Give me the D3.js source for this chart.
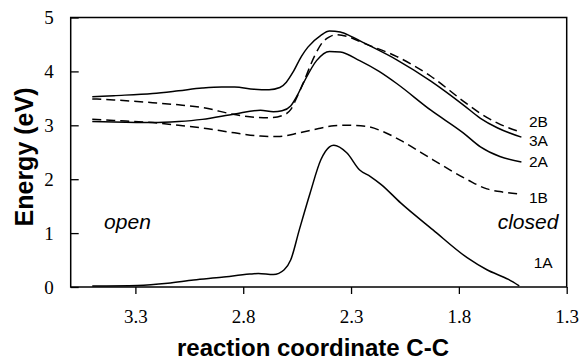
<!DOCTYPE html>
<html>
<head>
  <meta charset="utf-8">
  <script src="https://d3js.org/d3.v7.min.js"></script>
  <style>
    body { margin: 0; background: #fff; }
    .tick text { font-family: "Liberation Serif", "Times New Roman", serif; fill: #000; }
  </style>
</head>
<body>
<script type="text/javascript">

// ---- data: [C-C distance, energy eV] ----
var xTicks = [3.3, 2.8, 2.3, 1.8, 1.3];
var yTicks = [0, 1, 2, 3, 4, 5];

var curve3A = [[3.50,3.53],[3.40,3.55],[3.22,3.59],[3.10,3.64],[2.99,3.69],[2.90,3.71],[2.84,3.71],
  [2.75,3.67],[2.68,3.66],[2.63,3.70],[2.60,3.80],[2.57,3.98],[2.53,4.28],[2.50,4.45],[2.44,4.67],
  [2.40,4.75],[2.35,4.73],[2.30,4.65],[2.24,4.53],[2.09,4.22],[1.93,3.82],[1.78,3.38],[1.70,3.13],
  [1.62,2.95],[1.51,2.78]];

var curve2B = [[3.50,3.49],[3.40,3.47],[3.22,3.42],[3.10,3.38],[2.99,3.33],[2.84,3.20],[2.75,3.15],
  [2.68,3.14],[2.62,3.18],[2.58,3.29],[2.55,3.53],[2.52,3.80],[2.47,4.28],[2.43,4.55],[2.40,4.64],
  [2.37,4.68],[2.32,4.65],[2.24,4.52],[2.09,4.28],[1.93,3.91],[1.78,3.45],[1.70,3.22],[1.62,3.04],
  [1.51,2.87]];

var curve2A = [[3.50,3.07],[3.40,3.06],[3.22,3.05],[3.10,3.07],[2.99,3.11],[2.84,3.21],[2.72,3.28],
  [2.66,3.25],[2.62,3.27],[2.58,3.36],[2.55,3.55],[2.52,3.79],[2.46,4.20],[2.40,4.37],[2.35,4.36],
  [2.26,4.20],[2.17,4.00],[2.09,3.78],[1.93,3.28],[1.78,2.86],[1.70,2.60],[1.61,2.42],[1.51,2.32]];

var curve1B = [[3.50,3.11],[3.40,3.09],[3.22,3.05],[3.10,3.00],[2.99,2.95],[2.84,2.86],[2.72,2.80],
  [2.64,2.79],[2.54,2.86],[2.45,2.94],[2.38,2.99],[2.32,3.00],[2.23,2.98],[2.15,2.88],[2.07,2.72],
  [1.92,2.36],[1.76,1.99],[1.67,1.82],[1.61,1.77],[1.51,1.72]];

var curve1A = [[3.50,0.02],[3.29,0.03],[3.15,0.07],[3.03,0.13],[2.90,0.18],[2.77,0.24],[2.73,0.25],
  [2.66,0.23],[2.61,0.32],[2.58,0.50],[2.54,1.06],[2.49,1.74],[2.44,2.36],[2.40,2.60],[2.38,2.63],
  [2.32,2.49],[2.26,2.17],[2.21,2.05],[2.16,1.90],[2.07,1.56],[1.92,1.06],[1.76,0.54],[1.67,0.32],
  [1.57,0.14],[1.52,0.02]];

var seriesNames = ["2B", "3A", "2A", "1B", "1A"];
var seriesDashed = [true, false, false, true, false];
var seriesData = [curve2B, curve3A, curve2A, curve1B, curve1A];

/*************************************************************************************************/

var W = 581, H = 362;
var margin = {top: 17.5, right: 14.3, bottom: 75, left: 70.7};
var width = W - margin.left - margin.right,
    height = H - margin.top - margin.bottom;

var svg = d3.select("body").append("svg")
  .attr("width", W).attr("height", H);

var g = svg.append("g")
  .attr("transform", "translate(" + margin.left + "," + margin.top + ")");

var x = d3.scaleLinear().domain([3.6, 1.3]).range([0, width]);
var y = d3.scaleLinear().domain([0, 5]).range([height, 0]);

// axes
var xAxis = g.append("g")
  .attr("transform", "translate(0," + height + ")")
  .call(d3.axisBottom(x).tickValues(xTicks).tickFormat(d3.format(".1f"))
        .tickSizeInner(7).tickSizeOuter(0).tickPadding(16));
xAxis.selectAll("text").style("font-size", "19px");

var yAxis = g.append("g")
  .call(d3.axisLeft(y).tickValues(yTicks).tickFormat(d3.format("d"))
        .tickSizeInner(-8).tickSizeOuter(0).tickPadding(17));
yAxis.selectAll("text").style("font-size", "19px");

g.selectAll(".domain").remove();
g.selectAll(".tick line").attr("stroke", "#000").attr("stroke-width", 1.3);

// frame
g.append("rect")
  .attr("x", 0).attr("y", 0)
  .attr("width", width).attr("height", height)
  .attr("fill", "none").attr("stroke", "#000").attr("stroke-width", 1.5);

// curves
var line = d3.line()
  .x(function(d) { return x(d[0]); })
  .y(function(d) { return y(d[1]); })
  .curve(d3.curveMonotoneX);

seriesData.forEach(function(s, i) {
  g.append("path")
    .datum(s.slice().sort(function(a, b) { return b[0] - a[0]; }))
    .attr("d", line)
    .attr("fill", "none")
    .attr("stroke", "#000")
    .attr("stroke-width", 1.5)
    .attr("stroke-dasharray", seriesDashed[i] ? "9,5" : null);
});

// series labels at right end
var labelY = [2.97, 2.62, 2.22, 1.56, 0.35];
var labelX = [1.475, 1.475, 1.475, 1.475, 1.453];
seriesNames.forEach(function(name, i) {
  g.append("text")
    .attr("x", x(labelX[i]))
    .attr("y", y(labelY[i]))
    .style("font-family", "Liberation Sans, Arial, sans-serif")
    .style("font-size", "15.5px")
    .text(name);
});

// annotations
g.append("text")
  .attr("x", x(3.445)).attr("y", y(1.07))
  .style("font-family", "Liberation Sans, Arial, sans-serif")
  .style("font-size", "21px").style("font-style", "italic")
  .text("open");

g.append("text")
  .attr("x", x(1.62)).attr("y", y(1.07))
  .style("font-family", "Liberation Sans, Arial, sans-serif")
  .style("font-size", "21px").style("font-style", "italic")
  .text("closed");

// axis titles
svg.append("text")
  .attr("text-anchor", "middle")
  .attr("x", 313).attr("y", 356)
  .style("font-family", "Liberation Sans, Arial, sans-serif")
  .style("font-size", "24px").style("font-weight", "bold")
  .text("reaction coordinate C-C");

svg.append("text")
  .attr("text-anchor", "middle")
  .attr("transform", "translate(33,157) rotate(-90)")
  .style("font-family", "Liberation Sans, Arial, sans-serif")
  .style("font-size", "25px").style("font-weight", "bold")
  .text("Energy (eV)");

</script>
</body>
</html>
